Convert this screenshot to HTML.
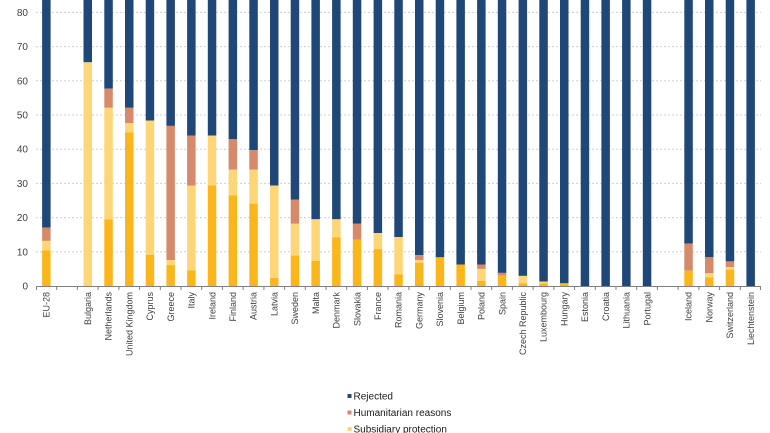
<!DOCTYPE html>
<html><head><meta charset="utf-8"><style>
html,body{margin:0;padding:0;background:#fff;}
svg{display:block;font-family:"Liberation Sans",Arial,sans-serif;}
</style></head><body>
<svg width="770" height="433" viewBox="0 0 770 433" xmlns="http://www.w3.org/2000/svg">
<g stroke="#cfcfcf" stroke-width="1" stroke-dasharray="2,2">
<line x1="36" x2="761" y1="251.8" y2="251.8"/>
<line x1="36" x2="761" y1="217.6" y2="217.6"/>
<line x1="36" x2="761" y1="183.4" y2="183.4"/>
<line x1="36" x2="761" y1="149.2" y2="149.2"/>
<line x1="36" x2="761" y1="115" y2="115"/>
<line x1="36" x2="761" y1="80.8" y2="80.8"/>
<line x1="36" x2="761" y1="46.6" y2="46.6"/>
<line x1="36" x2="761" y1="12.4" y2="12.4"/>
</g>
<g font-size="10" fill="#404040" text-anchor="end">
<text x="28" y="289.5">0</text>
<text x="28" y="255.3">10</text>
<text x="28" y="221.1">20</text>
<text x="28" y="186.9">30</text>
<text x="28" y="152.7">40</text>
<text x="28" y="118.5">50</text>
<text x="28" y="84.3">60</text>
<text x="28" y="50.1">70</text>
<text x="28" y="15.9">80</text>
</g>
<g>
<!-- EU-28 -->
<rect x="42.1" y="0" width="8.5" height="227.7" fill="#1f4878"/>
<rect x="42.1" y="227.7" width="8.5" height="13.2" fill="#d78a6b"/>
<rect x="42.1" y="240.9" width="8.5" height="9.5" fill="#fed677"/>
<rect x="42.1" y="250.4" width="8.5" height="35.6" fill="#fbb61c"/>
<!-- Bulgaria -->
<rect x="83.5" y="0" width="8.5" height="62.3" fill="#1f4878"/>
<rect x="83.5" y="62.3" width="8.5" height="223.7" fill="#fed677"/>
<!-- Netherlands -->
<rect x="104.3" y="0" width="8.5" height="88.7" fill="#1f4878"/>
<rect x="104.3" y="88.7" width="8.5" height="19.1" fill="#d78a6b"/>
<rect x="104.3" y="107.8" width="8.5" height="111.5" fill="#fed677"/>
<rect x="104.3" y="219.3" width="8.5" height="66.7" fill="#fbb61c"/>
<!-- UK -->
<rect x="125" y="0" width="8.5" height="107.8" fill="#1f4878"/>
<rect x="125" y="107.8" width="8.5" height="15.4" fill="#d78a6b"/>
<rect x="125" y="123.2" width="8.5" height="9.2" fill="#fed677"/>
<rect x="125" y="132.4" width="8.5" height="153.6" fill="#fbb61c"/>
<!-- Cyprus -->
<rect x="145.7" y="0" width="8.5" height="120.5" fill="#1f4878"/>
<rect x="145.7" y="120.5" width="8.5" height="134.4" fill="#fed677"/>
<rect x="145.7" y="254.9" width="8.5" height="31.1" fill="#fbb61c"/>
<!-- Greece -->
<rect x="166.4" y="0" width="8.5" height="125.9" fill="#1f4878"/>
<rect x="166.4" y="125.9" width="8.5" height="134.1" fill="#d78a6b"/>
<rect x="166.4" y="260" width="8.5" height="5.1" fill="#fed677"/>
<rect x="166.4" y="265.1" width="8.5" height="20.9" fill="#fbb61c"/>
<!-- Italy -->
<rect x="187.1" y="0" width="8.5" height="135.5" fill="#1f4878"/>
<rect x="187.1" y="135.5" width="8.5" height="50" fill="#d78a6b"/>
<rect x="187.1" y="185.5" width="8.5" height="84.8" fill="#fed677"/>
<rect x="187.1" y="270.3" width="8.5" height="15.7" fill="#fbb61c"/>
<!-- Ireland -->
<rect x="207.8" y="0" width="8.5" height="135.5" fill="#1f4878"/>
<rect x="207.8" y="135.5" width="8.5" height="50" fill="#fed677"/>
<rect x="207.8" y="185.5" width="8.5" height="100.5" fill="#fbb61c"/>
<!-- Finland -->
<rect x="228.6" y="0" width="8.5" height="139.3" fill="#1f4878"/>
<rect x="228.6" y="139.3" width="8.5" height="30.4" fill="#d78a6b"/>
<rect x="228.6" y="169.7" width="8.5" height="25.7" fill="#fed677"/>
<rect x="228.6" y="195.4" width="8.5" height="90.6" fill="#fbb61c"/>
<!-- Austria -->
<rect x="249.3" y="0" width="8.5" height="150.2" fill="#1f4878"/>
<rect x="249.3" y="150.2" width="8.5" height="19.5" fill="#d78a6b"/>
<rect x="249.3" y="169.7" width="8.5" height="33.9" fill="#fed677"/>
<rect x="249.3" y="203.6" width="8.5" height="82.4" fill="#fbb61c"/>
<!-- Latvia -->
<rect x="270" y="0" width="8.5" height="185.5" fill="#1f4878"/>
<rect x="270" y="185.5" width="8.5" height="92.3" fill="#fed677"/>
<rect x="270" y="277.8" width="8.5" height="8.2" fill="#fbb61c"/>
<!-- Sweden -->
<rect x="290.7" y="0" width="8.5" height="199.5" fill="#1f4878"/>
<rect x="290.7" y="199.5" width="8.5" height="24.3" fill="#d78a6b"/>
<rect x="290.7" y="223.8" width="8.5" height="31.8" fill="#fed677"/>
<rect x="290.7" y="255.6" width="8.5" height="30.4" fill="#fbb61c"/>
<!-- Malta -->
<rect x="311.4" y="0" width="8.5" height="219.3" fill="#1f4878"/>
<rect x="311.4" y="219.3" width="8.5" height="41.7" fill="#fed677"/>
<rect x="311.4" y="261" width="8.5" height="25" fill="#fbb61c"/>
<!-- Denmark -->
<rect x="332.1" y="0" width="8.5" height="219.3" fill="#1f4878"/>
<rect x="332.1" y="219.3" width="8.5" height="18.1" fill="#fed677"/>
<rect x="332.1" y="237.4" width="8.5" height="48.6" fill="#fbb61c"/>
<!-- Slovakia -->
<rect x="352.8" y="0" width="8.5" height="223.8" fill="#1f4878"/>
<rect x="352.8" y="223.8" width="8.5" height="16" fill="#d78a6b"/>
<rect x="352.8" y="239.8" width="8.5" height="46.2" fill="#fbb61c"/>
<!-- France -->
<rect x="373.6" y="0" width="8.5" height="233" fill="#1f4878"/>
<rect x="373.6" y="233" width="8.5" height="16.1" fill="#fed677"/>
<rect x="373.6" y="249.1" width="8.5" height="36.9" fill="#fbb61c"/>
<!-- Romania -->
<rect x="394.3" y="0" width="8.5" height="237.1" fill="#1f4878"/>
<rect x="394.3" y="237.1" width="8.5" height="37.3" fill="#fed677"/>
<rect x="394.3" y="274.4" width="8.5" height="11.6" fill="#fbb61c"/>
<!-- Germany -->
<rect x="415" y="0" width="8.5" height="255.2" fill="#1f4878"/>
<rect x="415" y="255.2" width="8.5" height="4.8" fill="#d78a6b"/>
<rect x="415" y="260" width="8.5" height="2.7" fill="#fed677"/>
<rect x="415" y="262.7" width="8.5" height="23.3" fill="#fbb61c"/>
<!-- Slovenia -->
<rect x="435.7" y="0" width="8.5" height="257.3" fill="#1f4878"/>
<rect x="435.7" y="257.3" width="8.5" height="28.7" fill="#fbb61c"/>
<!-- Belgium -->
<rect x="456.4" y="0" width="8.5" height="264.5" fill="#1f4878"/>
<rect x="456.4" y="264.5" width="8.5" height="21.5" fill="#fbb61c"/>
<!-- Poland -->
<rect x="477.1" y="0" width="8.5" height="264.5" fill="#1f4878"/>
<rect x="477.1" y="264.5" width="8.5" height="4.4" fill="#d78a6b"/>
<rect x="477.1" y="268.9" width="8.5" height="12" fill="#fed677"/>
<rect x="477.1" y="280.9" width="8.5" height="5.1" fill="#fbb61c"/>
<!-- Spain -->
<rect x="497.8" y="0" width="8.5" height="272.9" fill="#1f4878"/>
<rect x="497.8" y="272.9" width="8.5" height="2.8" fill="#d78a6b"/>
<rect x="497.8" y="275.7" width="8.5" height="10.3" fill="#fbb61c"/>
<!-- Czech Republic -->
<rect x="518.6" y="0" width="8.5" height="275.9" fill="#1f4878"/>
<rect x="518.6" y="275.9" width="8.5" height="7.6" fill="#fed677"/>
<rect x="518.6" y="283.5" width="8.5" height="2.5" fill="#fbb61c"/>
<!-- Luxembourg -->
<rect x="539.3" y="0" width="8.5" height="281.6" fill="#1f4878"/>
<rect x="539.3" y="281.6" width="8.5" height="2" fill="#fed677"/>
<rect x="539.3" y="283.6" width="8.5" height="2.4" fill="#fbb61c"/>
<!-- Hungary -->
<rect x="560" y="0" width="8.5" height="283.3" fill="#1f4878"/>
<rect x="560" y="283.3" width="8.5" height="2.7" fill="#fbb61c"/>
<!-- Estonia, Croatia, Lithuania, Portugal -->
<rect x="580.7" y="0" width="8.5" height="286" fill="#1f4878"/>
<rect x="601.4" y="0" width="8.5" height="286" fill="#1f4878"/>
<rect x="622.1" y="0" width="8.5" height="286" fill="#1f4878"/>
<rect x="642.8" y="0" width="8.5" height="286" fill="#1f4878"/>
<!-- Iceland -->
<rect x="684.3" y="0" width="8.5" height="243.6" fill="#1f4878"/>
<rect x="684.3" y="243.6" width="8.5" height="27" fill="#d78a6b"/>
<rect x="684.3" y="270.6" width="8.5" height="15.4" fill="#fbb61c"/>
<!-- Norway -->
<rect x="705" y="0" width="8.5" height="257.3" fill="#1f4878"/>
<rect x="705" y="257.3" width="8.5" height="16" fill="#d78a6b"/>
<rect x="705" y="273.3" width="8.5" height="4.2" fill="#fed677"/>
<rect x="705" y="277.5" width="8.5" height="8.5" fill="#fbb61c"/>
<!-- Switzerland -->
<rect x="725.7" y="0" width="8.5" height="261.4" fill="#1f4878"/>
<rect x="725.7" y="261.4" width="8.5" height="5.8" fill="#d78a6b"/>
<rect x="725.7" y="267.2" width="8.5" height="2.4" fill="#fed677"/>
<rect x="725.7" y="269.6" width="8.5" height="16.4" fill="#fbb61c"/>
<!-- Liechtenstein -->
<rect x="746.4" y="0" width="8.5" height="286" fill="#1f4878"/>
</g>
<g stroke="#7f7f7f" stroke-width="1">
<line x1="36" x2="761" y1="286.5" y2="286.5"/>
<path d="M36.5 286v4M56.7 286v4M77.4 286v4M98.1 286v4M118.9 286v4M139.6 286v4M160.3 286v4M181 286v4M201.7 286v4M222.4 286v4M243.1 286v4M263.9 286v4M284.6 286v4M305.3 286v4M326 286v4M346.7 286v4M367.4 286v4M388.1 286v4M408.9 286v4M429.6 286v4M450.3 286v4M471 286v4M491.7 286v4M512.4 286v4M533.1 286v4M553.9 286v4M574.6 286v4M595.3 286v4M616 286v4M636.7 286v4M657.4 286v4M678.1 286v4M698.9 286v4M719.6 286v4M740.3 286v4M760.5 286v4"/>
</g>
<g font-size="9" fill="#404040" text-anchor="end">
<text transform="translate(49.6,292) rotate(-90)">EU-28</text>
<text transform="translate(91,292) rotate(-90)">Bulgaria</text>
<text transform="translate(111.7,292) rotate(-90)">Netherlands</text>
<text transform="translate(132.4,292) rotate(-90)">United Kingdom</text>
<text transform="translate(153.1,292) rotate(-90)">Cyprus</text>
<text transform="translate(173.8,292) rotate(-90)">Greece</text>
<text transform="translate(194.6,292) rotate(-90)">Italy</text>
<text transform="translate(215.3,292) rotate(-90)">Ireland</text>
<text transform="translate(236,292) rotate(-90)">Finland</text>
<text transform="translate(256.7,292) rotate(-90)">Austria</text>
<text transform="translate(277.4,292) rotate(-90)">Latvia</text>
<text transform="translate(298.1,292) rotate(-90)">Sweden</text>
<text transform="translate(318.8,292) rotate(-90)">Malta</text>
<text transform="translate(339.6,292) rotate(-90)">Denmark</text>
<text transform="translate(360.3,292) rotate(-90)">Slovakia</text>
<text transform="translate(381,292) rotate(-90)">France</text>
<text transform="translate(401.7,292) rotate(-90)">Romania</text>
<text transform="translate(422.4,292) rotate(-90)">Germany</text>
<text transform="translate(443.1,292) rotate(-90)">Slovenia</text>
<text transform="translate(463.8,292) rotate(-90)">Belgium</text>
<text transform="translate(484.6,292) rotate(-90)">Poland</text>
<text transform="translate(505.3,292) rotate(-90)">Spain</text>
<text transform="translate(526,292) rotate(-90)">Czech Republic</text>
<text transform="translate(546.7,292) rotate(-90)">Luxembourg</text>
<text transform="translate(567.4,292) rotate(-90)">Hungary</text>
<text transform="translate(588.1,292) rotate(-90)">Estonia</text>
<text transform="translate(608.8,292) rotate(-90)">Croatia</text>
<text transform="translate(629.6,292) rotate(-90)">Lithuania</text>
<text transform="translate(650.3,292) rotate(-90)">Portugal</text>
<text transform="translate(691.7,292) rotate(-90)">Iceland</text>
<text transform="translate(712.4,292) rotate(-90)">Norway</text>
<text transform="translate(733.1,292) rotate(-90)">Switzerland</text>
<text transform="translate(753.8,292) rotate(-90)">Liechtenstein</text>
</g>
<g font-size="10" fill="#1a1a1a">
<rect x="347.5" y="394" width="4" height="4" fill="#1f4878"/>
<text x="353.5" y="399.5">Rejected</text>
<rect x="347.5" y="410.5" width="4" height="4" fill="#d78a6b"/>
<text x="353.5" y="416">Humanitarian reasons</text>
<rect x="347.5" y="427" width="4" height="4" fill="#fed677"/>
<text x="353.5" y="432.5">Subsidiary protection</text>
</g>
</svg>
</body></html>
